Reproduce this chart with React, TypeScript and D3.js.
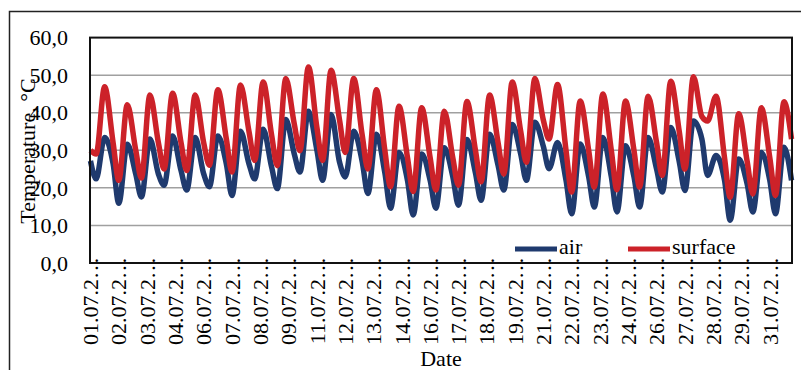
import { useRef, useEffect } from "react";
import * as d3 from "d3";

// hourly readings, July, 31 days; values read per day at 0h / 6h / 15h
const airNight = [27.2, 26.4, 23.7, 23.7, 24.6, 23.7, 26.4, 26.4, 25.5, 29, 30, 26.8, 27, 24, 22, 22, 23, 24, 26, 29, 31, 22, 23, 23, 23, 25, 27, 33, 22, 21, 22];
const airMin = [22.4, 15.9, 17.6, 20.7, 19.4, 20.3, 18.0, 22.4, 19.8, 24.2, 22.0, 22.9, 18.5, 14.6, 12.8, 14.6, 15.4, 16.7, 19.4, 22.0, 25.1, 13.1, 14.9, 13.6, 14.9, 18.9, 19.3, 23.3, 11.4, 13.6, 13.1];
const airMax = [33.4, 31.6, 33.0, 33.8, 33.4, 33.8, 35.1, 35.6, 38.2, 40.4, 39.5, 35.1, 34.3, 29.4, 29.0, 30.7, 32.9, 34.3, 36.9, 37.5, 32.1, 31.7, 33.4, 31.2, 33.4, 36.1, 37.8, 28.6, 27.7, 29.4, 30.8];
const airEnd = 22;

const surfNight = [30, 32, 30, 32, 32, 32, 33, 35, 34, 37, 36, 38, 34, 30, 28, 28, 28, 30, 32, 35, 38, 30, 30, 30, 30, 32, 35, 39, 28, 27, 28];
const surfMin = [29, 22, 22.6, 25, 24.6, 26, 24.2, 27.3, 25.9, 29.9, 27.3, 29.4, 25, 20.3, 19, 19.4, 20.7, 21.6, 23.7, 26.8, 33, 18.9, 20.2, 19.5, 20.2, 23.3, 25, 37.8, 17.5, 18.4, 18];
const surfMax = [46.9, 42.1, 44.7, 45.2, 44.7, 46.1, 47.4, 48.2, 49.1, 52.2, 51.3, 49.1, 46.1, 41.7, 41.3, 40.4, 43.0, 44.7, 48.2, 49.1, 47.5, 43.1, 45.0, 43.1, 44.4, 48.4, 49.6, 44.4, 39.7, 41.3, 42.9];
const surfEnd = 33;

const readingHours = [0, 6, 15];
const tickLabels = ["01.07.2…", "02.07.2…", "03.07.2…", "04.07.2…", "06.07.2…", "07.07.2…", "08.07.2…", "09.07.2…", "11.07.2…", "12.07.2…", "13.07.2…", "14.07.2…", "16.07.2…", "17.07.2…", "18.07.2…", "19.07.2…", "21.07.2…", "22.07.2…", "23.07.2…", "24.07.2…", "26.07.2…", "27.07.2…", "28.07.2…", "29.07.2…", "31.07.2…"];
const yTicks = [0, 10, 20, 30, 40, 50, 60];

const buildSeries = (night, min, max, end) => {
  const pts = [];
  night.forEach((_, d) => {
    pts.push([d * 24 + readingHours[0], night[d]]);
    pts.push([d * 24 + readingHours[1], min[d]]);
    pts.push([d * 24 + readingHours[2], max[d]]);
  });
  pts.push([night.length * 24 - 1, end]);
  return pts;
};

export default function App() {
  const svgRef = useRef(null);

  useEffect(() => {
    const svg = d3.select(svgRef.current);
    svg.selectAll("*").remove();

    const font = "Liberation Serif, Times New Roman, DejaVu Serif, serif";
    const left = 90, right = 792, top = 37.6, bottom = 263;
    const hours = airNight.length * 24;

    const x = d3.scaleLinear().domain([0, hours]).range([left, right]);
    const y = d3.scaleLinear().domain([0, 60]).range([bottom, top]);

    // outer frame
    svg.append("rect")
      .attr("x", 9.5).attr("y", 11.5)
      .attr("width", 800).attr("height", 400)
      .attr("fill", "none").attr("stroke", "#222").attr("stroke-width", 1.5);

    // gridlines
    svg.append("g")
      .selectAll("line")
      .data(yTicks.slice(1, -1))
      .join("line")
      .attr("x1", left).attr("x2", right)
      .attr("y1", d => y(d)).attr("y2", d => y(d))
      .attr("stroke", "#a0a0a0").attr("stroke-width", 1.5);

    // y tick labels
    svg.append("g")
      .selectAll("text")
      .data(yTicks)
      .join("text")
      .attr("x", 68)
      .attr("y", d => y(d))
      .attr("dy", "0.35em")
      .attr("text-anchor", "end")
      .attr("font-family", font)
      .attr("font-size", 22)
      .text(d => d.toFixed(1).replace(".", ","));

    // lines
    const line = d3.line()
      .x(d => x(d[0] + 0.5))
      .y(d => y(d[1]))
      .curve(d3.curveMonotoneX);

    const series = [
      { name: "air", color: "#1f3a6e", pts: buildSeries(airNight, airMin, airMax, airEnd) },
      { name: "surface", color: "#cc2229", pts: buildSeries(surfNight, surfMin, surfMax, surfEnd) },
    ];

    svg.append("g")
      .selectAll("path")
      .data(series)
      .join("path")
      .attr("d", d => line(d.pts))
      .attr("fill", "none")
      .attr("stroke", d => d.color)
      .attr("stroke-width", 5.5)
      .attr("stroke-linejoin", "round");

    // plot border
    svg.append("rect")
      .attr("x", left).attr("y", top)
      .attr("width", right - left).attr("height", bottom - top)
      .attr("fill", "none").attr("stroke", "#111").attr("stroke-width", 2);

    // x labels
    svg.append("g")
      .selectAll("text")
      .data(tickLabels)
      .join("text")
      .attr("transform", (d, i) => `translate(${x(i * 30 + 0.5)},257) rotate(-90)`)
      .attr("dy", "0.35em")
      .attr("text-anchor", "end")
      .attr("font-family", font)
      .attr("font-size", 22)
      .text(d => d);

    // axis titles
    svg.append("text")
      .attr("transform", "translate(35,151) rotate(-90)")
      .attr("text-anchor", "middle")
      .attr("font-family", font)
      .attr("font-size", 22)
      .text("Temperature, °C");

    svg.append("text")
      .attr("x", 441).attr("y", 366)
      .attr("text-anchor", "middle")
      .attr("font-family", font)
      .attr("font-size", 22)
      .text("Date");

    // legend
    const legend = svg.append("g");
    const legendX = [515, 628];
    series.forEach((s, i) => {
      legend.append("line")
        .attr("x1", legendX[i]).attr("x2", legendX[i] + 42)
        .attr("y1", 249).attr("y2", 249)
        .attr("stroke", s.color).attr("stroke-width", 5);
      legend.append("text")
        .attr("x", legendX[i] + 44).attr("y", 254)
        .attr("font-family", font)
        .attr("font-size", 22)
        .text(s.name);
    });
  }, []);

  return (
    <svg
      ref={svgRef}
      width={801}
      height={370}
      style={{ position: "absolute", left: 0, top: 0, background: "#fff" }}
    />
  );
}
